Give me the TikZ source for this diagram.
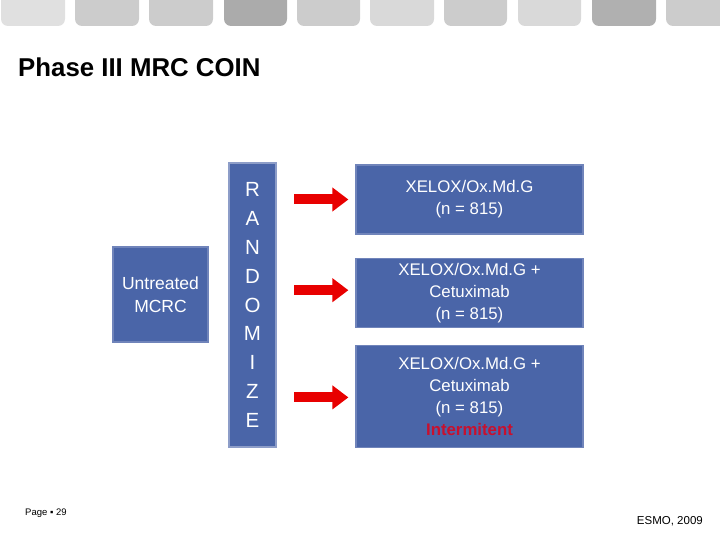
\documentclass[tikz,border=0pt]{standalone}
\usepackage{fontspec}
\setmainfont{Liberation Sans}
\usetikzlibrary{arrows.meta}
\usetikzlibrary{positioning}
\usetikzlibrary{calc}

\definecolor{boxblue}{RGB}{74,101,168}
\definecolor{boxline}{RGB}{112,132,186}
\definecolor{arrowred}{RGB}{232,0,0}
\definecolor{termred}{RGB}{200,16,46}

\begin{document}
\begin{tikzpicture}[x=1pt,y=-1pt,
    blue box/.style={rectangle,draw=boxline,fill=boxblue,line width=1.2pt,
      text=white,align=center,font=\fontsize{16.8}{22}\selectfont,inner sep=0pt},
    red arrow/.style={draw=arrowred,line width=10pt,
      -{Triangle[length=16pt,width=23pt]}}]

  \useasboundingbox (0,0) rectangle (720,540);

  % tabs along the top
  \foreach \xa/\xb/\g in {1/65/12,75/139/20,149/213/20,224/287/33,297/360/20,
                          370/434/15,444/507/20,518/581/15,592/656/31,666/730/20}
    \fill[black!\g,rounded corners=7pt] (\xa,-10) rectangle (\xb,26);

  \node[anchor=base west,inner sep=0pt,
    font=\fontsize{25.8}{30}\selectfont\bfseries] (title)
    at (18,77) {Phase III MRC COIN};

  \node[blue box,minimum width=95pt,minimum height=95pt,
    font=\fontsize{17.5}{23}\selectfont] (untreated)
    at (160.5,294.5) {Untreated\\MCRC};
  \node[blue box,draw=boxline!80!white,line width=2pt,minimum width=47pt,
    minimum height=284pt,font=\fontsize{20.5}{28.8}\selectfont] (rand)
    at (252.5,305) {R\\A\\N\\D\\O\\M\\I\\Z\\E};

  \node[blue box,minimum width=227pt,minimum height=69pt] (b1)
    at (469.5,199.5) {XELOX/Ox.Md.G\\(n = 815)};
  \node[blue box,minimum width=227pt,minimum height=69pt,below=23pt of b1] (b2)
    {XELOX/Ox.Md.G +\\Cetuximab\\(n = 815)};
  \node[blue box,minimum width=227pt,minimum height=102pt,below=17pt of b2] (b3)
    {XELOX/Ox.Md.G +\\Cetuximab\\(n = 815)\\{\color{termred}\bfseries Intermitent}};

  \draw[red arrow] ($(rand.east |- b1.west)+(17,0)$) -- ($(b1.west)+(-7,0)$);
  \draw[red arrow] ($(rand.east |- b2.west)+(17,-2.5)$) -- ($(b2.west)+(-7,-2.5)$);
  \draw[red arrow] ($(rand.east |- b3.west)+(17,1)$) -- ($(b3.west)+(-7,1)$);

  \node[anchor=base west,inner sep=0pt,font=\fontsize{9.5}{11}\selectfont] (page)
    at (25,515) {Page ▪ 29};
  \node[anchor=base east,inner sep=0pt,font=\fontsize{11.5}{13}\selectfont] (source)
    at (703,524) {ESMO, 2009};
\end{tikzpicture}
\end{document}
